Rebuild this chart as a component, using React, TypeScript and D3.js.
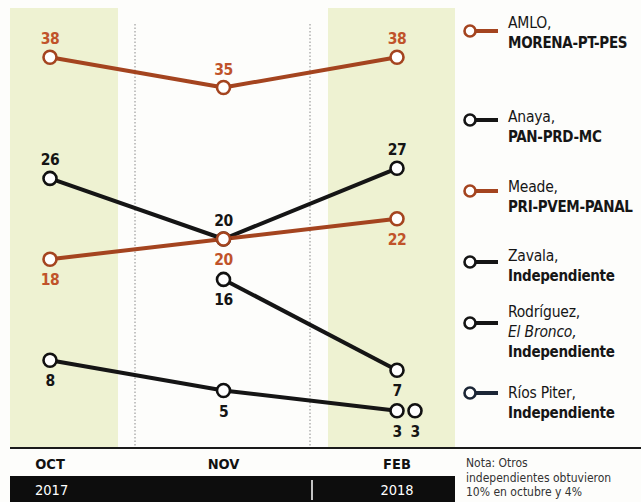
import React from "react";
import * as d3 from "d3";

const months = ["OCT", "NOV", "FEB"];
const years = ["2017", "2018"];
const amlo = [38, 35, 38];
const anaya = [26, 20, 27];
const meade = [18, 20, 22];
const zavala: (number | null)[] = [null, 16, 7];
const rodriguez = [8, 5, 3];
const riosPiter: (number | null)[] = [null, null, 3];

const seriesNames = ["AMLO", "Anaya", "Meade", "Zavala", "Rodríguez", "Ríos Piter"];
const legendLines = [
  [["AMLO,", "r"], ["MORENA-PT-PES", "b"]],
  [["Anaya,", "r"], ["PAN-PRD-MC", "b"]],
  [["Meade,", "r"], ["PRI-PVEM-PANAL", "b"]],
  [["Zavala,", "r"], ["Independiente", "b"]],
  [["Rodríguez,", "r"], ["El Bronco,", "i"], ["Independiente", "b"]],
  [["Ríos Piter,", "r"], ["Independiente", "b"]],
];
const noteLines = ["Nota: Otros", "independientes obtuvieron", "10% en octubre y 4%"];

const values = [amlo, anaya, meade, zavala, rodriguez, riosPiter];

// styling / layout (not data)
const ORANGE = "#a4441f";
const ORANGE_LABEL = "#c0532a";
const BLACK = "#151515";
const NAVY = "#1c2636";
const colors = [ORANGE, BLACK, ORANGE, BLACK, BLACK, NAVY];
const labelColors = [ORANGE_LABEL, BLACK, ORANGE_LABEL, BLACK, BLACK, BLACK];
const labelAbove = [true, true, false, false, false, false];
const dodge = [0, 0, 0, 0, 0, 18];
const legendIconY = [31, 120, 191, 262, 323, 393];
const legendTextY = [28, 122, 192, 261, 317, 398];

const W = 641;
const H = 502;
const FONT = "'DejaVu Sans Condensed', 'Liberation Sans Narrow', sans-serif";

export default function App() {
  const x = d3.scalePoint<string>().domain(months).range([50, 397]);
  const y = d3.scaleLinear().domain([0, 40]).range([441, 37]);
  const baseY = 448;

  const line = d3
    .line<{ m: string; v: number | null }>()
    .defined((d) => d.v !== null)
    .x((d) => x(d.m) as number)
    .y((d) => y(d.v as number));

  return (
    <svg
      width={W}
      height={H}
      style={{ position: "absolute", left: 0, top: 0, background: "#fdfdfb" }}
      fontFamily={FONT}
    >
      {/* shaded bands */}
      <rect x={10} y={8} width={108} height={baseY - 8} fill="#eef2d2" />
      <rect x={328} y={8} width={127} height={baseY - 8} fill="#eef2d2" />
      {/* dotted separators */}
      {[135, 310].map((dx) => (
        <line key={dx} x1={dx} x2={dx} y1={24} y2={baseY} stroke="#8a8a8a" strokeWidth={1} strokeDasharray="1.5,2" />
      ))}

      {/* lines */}
      {values.map((vals, i) => {
        const pts = months.map((m, j) => ({ m, v: vals[j] }));
        return (
          <path key={"l" + i} d={line(pts) || ""} fill="none" stroke={colors[i]} strokeWidth={4} strokeLinejoin="round" />
        );
      })}
      {/* points and labels */}
      {values.map((vals, i) =>
        months.map((m, j) => {
          const v = vals[j];
          if (v === null) return null;
          const cx = (x(m) as number) + dodge[i];
          const cy = y(v);
          return (
            <g key={"p" + i + "-" + j}>
              <circle cx={cx} cy={cy} r={6.5} fill="#fff" stroke={colors[i] === ORANGE ? ORANGE : "#111"} strokeWidth={2.6} />
              <text
                x={cx}
                y={labelAbove[i] ? cy - 13 : cy + 26}
                textAnchor="middle"
                fontWeight="bold"
                fontSize={15.5}
                fill={labelColors[i]}
                style={{ letterSpacing: "-0.5px" }}
              >
                {v}
              </text>
            </g>
          );
        })
      )}

      {/* baseline */}
      <line x1={10} x2={W} y1={baseY} y2={baseY} stroke="#1a1a1a" strokeWidth={2} />

      {/* month labels */}
      {months.map((m) => (
        <text key={m} x={x(m) as number} y={469} textAnchor="middle" fontWeight="bold" fontSize={14.5} fill="#111">
          {m}
        </text>
      ))}
      {/* year bar */}
      <rect x={10} y={476} width={445} height={26} fill="#0d0d0d" />
      <line x1={312} x2={312} y1={480} y2={500} stroke="#fff" strokeWidth={1.5} />
      <text x={35} y={495} fontSize={14.5} fill="#fff">{years[0]}</text>
      <text x={x("FEB") as number} y={495} fontSize={14.5} fill="#fff" textAnchor="middle">{years[1]}</text>

      {/* legend */}
      {seriesNames.map((name, i) => (
        <g key={name}>
          <line x1={476} x2={498} y1={legendIconY[i]} y2={legendIconY[i]} stroke={colors[i]} strokeWidth={4} />
          <circle cx={470} cy={legendIconY[i]} r={5.5} fill="#fff" stroke={colors[i]} strokeWidth={2.6} />
          {legendLines[i].map(([t, s], k) => (
            <text
              key={k}
              x={508}
              y={legendTextY[i] + k * 20}
              fontSize={s === "b" ? 15 : 15.5}
              fontWeight={s === "b" ? "bold" : "normal"}
              fontStyle={s === "i" ? "italic" : "normal"}
              fill="#161616"
              style={{ letterSpacing: s === "b" ? "-0.3px" : "-0.2px" }}
            >
              {t}
            </text>
          ))}
        </g>
      ))}

      {/* note */}
      {noteLines.map((t, k) => (
        <text key={k} x={466} y={467 + k * 14.5} fontSize={12} fill="#333">
          {t}
        </text>
      ))}
    </svg>
  );
}
